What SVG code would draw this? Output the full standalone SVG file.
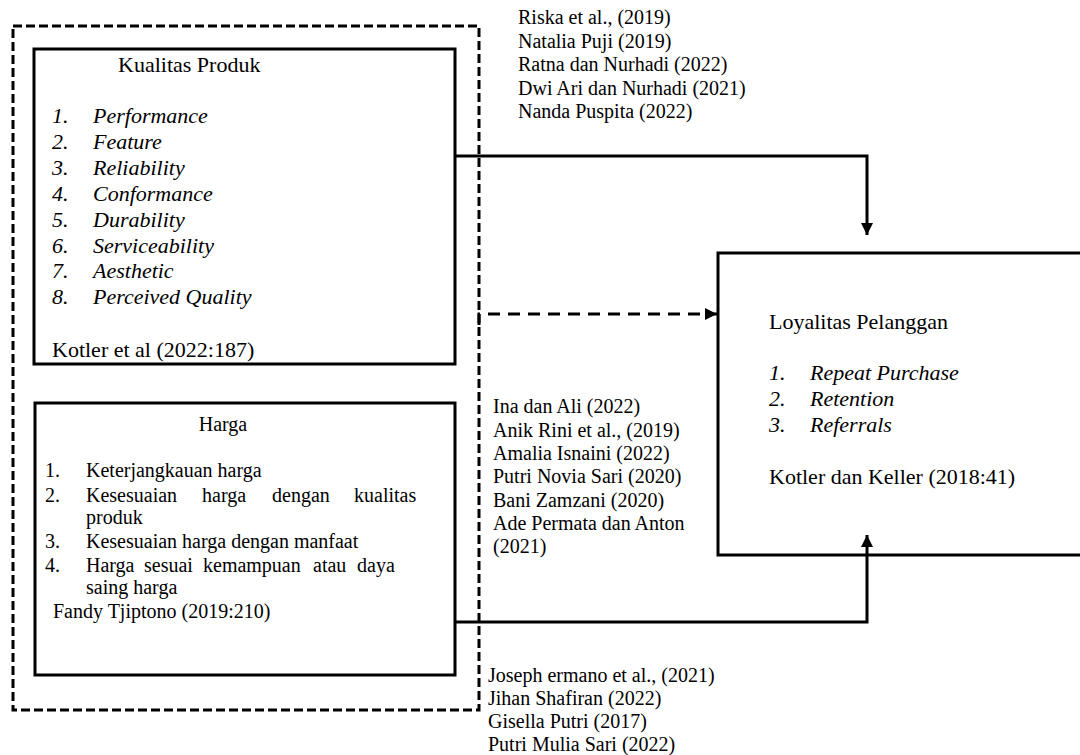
<svg xmlns="http://www.w3.org/2000/svg" width="1080" height="755" viewBox="0 0 1080 755" font-family="Liberation Serif, serif">
<defs>
<style>
text{fill:#000}
.t22{font-size:22px}
.t20{font-size:20px}
.it{font-style:italic}
.box{fill:none;stroke:#000;stroke-width:3}
.dash{fill:none;stroke:#000;stroke-width:3;stroke-dasharray:9 4}
.conn{fill:none;stroke:#000;stroke-width:3}
.dconn{fill:none;stroke:#000;stroke-width:3;stroke-dasharray:12 8}
</style>
<marker id="ah" viewBox="0 0 12 12" refX="12" refY="6" markerWidth="12" markerHeight="12" markerUnits="userSpaceOnUse" orient="auto">
<path d="M0,0 L12,6 L0,12 Z" fill="#000"/>
</marker>
</defs>
<rect width="1080" height="755" fill="#fff"/>

<g id="group-outer">
<rect class="dash" x="13" y="26" width="466" height="684"/>
</g>

<g id="node-kualitas">
<rect class="box" x="34" y="49" width="421" height="315"/>
<text class="t22" x="118" y="72">Kualitas Produk</text>
<g class="t22 it">
<text x="52" y="123">1.</text><text x="93" y="123">Performance</text>
<text x="52" y="149">2.</text><text x="93" y="149">Feature</text>
<text x="52" y="175">3.</text><text x="93" y="175">Reliability</text>
<text x="52" y="201">4.</text><text x="93" y="201">Conformance</text>
<text x="52" y="227">5.</text><text x="93" y="227">Durability</text>
<text x="52" y="253">6.</text><text x="93" y="253">Serviceability</text>
<text x="52" y="278">7.</text><text x="93" y="278">Aesthetic</text>
<text x="52" y="304">8.</text><text x="93" y="304">Perceived Quality</text>
</g>
<text class="t22" x="52" y="357">Kotler et al (2022:187)</text>
</g>

<g id="node-harga">
<rect class="box" x="35" y="403" width="420" height="272"/>
<g class="t20">
<text x="223" y="431" text-anchor="middle">Harga</text>
<text x="45" y="477">1.</text><text x="86" y="477">Keterjangkauan harga</text>
<text x="45" y="502">2.</text><text x="86" y="502">Kesesuaian</text><text x="202" y="502">harga</text><text x="272" y="502">dengan</text><text x="354" y="502">kualitas</text>
<text x="86" y="524">produk</text>
<text x="45" y="548">3.</text><text x="86" y="548">Kesesuaian harga dengan manfaat</text>
<text x="45" y="572">4.</text><text x="86" y="572">Harga</text><text x="144" y="572">sesuai</text><text x="203" y="572">kemampuan</text><text x="313" y="572">atau</text><text x="357" y="572">daya</text>
<text x="86" y="594">saing harga</text>
<text x="53" y="618">Fandy Tjiptono (2019:210)</text>
</g>
</g>

<g id="node-loyalitas">
<path class="box" d="M1083,253 H718 V555 H1083"/>
<text class="t22" x="769" y="329">Loyalitas Pelanggan</text>
<g class="t22 it">
<text x="769" y="380">1.</text><text x="810" y="380">Repeat Purchase</text>
<text x="769" y="406">2.</text><text x="810" y="406">Retention</text>
<text x="769" y="432">3.</text><text x="810" y="432">Referrals</text>
</g>
<text class="t22" x="769" y="484">Kotler dan Keller (2018:41)</text>
</g>

<g id="labels-citations" class="t20">
<text x="518" y="24">Riska et al., (2019)</text>
<text x="518" y="47.5">Natalia Puji (2019)</text>
<text x="518" y="71">Ratna dan Nurhadi (2022)</text>
<text x="518" y="94.5">Dwi Ari dan Nurhadi (2021)</text>
<text x="518" y="118">Nanda Puspita (2022)</text>
<text x="493" y="413">Ina dan Ali (2022)</text>
<text x="493" y="437">Anik Rini et al., (2019)</text>
<text x="493" y="460">Amalia Isnaini (2022)</text>
<text x="493" y="483">Putri Novia Sari (2020)</text>
<text x="493" y="507">Bani Zamzani (2020)</text>
<text x="493" y="530">Ade Permata dan Anton</text>
<text x="493" y="553">(2021)</text>
<text x="488" y="682">Joseph ermano et al., (2021)</text>
<text x="488" y="705">Jihan Shafiran (2022)</text>
<text x="488" y="728">Gisella Putri (2017)</text>
<text x="488" y="751">Putri Mulia Sari (2022)</text>
</g>

<g id="connectors">
<path class="conn" d="M455,156 H867 V235" marker-end="url(#ah)"/>
<path class="dconn" d="M479,325 V314 H717" marker-end="url(#ah)"/>
<path class="conn" d="M455,622 H867 V535" marker-end="url(#ah)"/>
</g>
</svg>
